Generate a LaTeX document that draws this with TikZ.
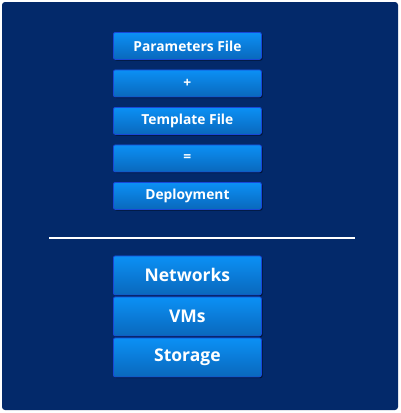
\documentclass[tikz,border=0pt]{standalone}
\usepackage{fontspec}
\setmainfont{Open Sans}
\usetikzlibrary{shadows}
\definecolor{bgnavy}{HTML}{03296A}
\definecolor{btop}{HTML}{0B90F5}
\definecolor{bbot}{HTML}{0A68BC}
\definecolor{bedge}{HTML}{1848D8}
\tikzset{
  btn/.style={draw=bedge, line width=0.8pt, rounded corners=2pt, top color=btop, bottom color=bbot,
    text=white, font=\fontsize{13.8}{15}\selectfont\bfseries, minimum width=148pt, anchor=north west,
    drop shadow={shadow xshift=1.2pt, shadow yshift=-1.2pt, opacity=0.5, fill=black}},
  small/.style={btn, minimum height=27pt},
  big/.style={btn, minimum height=39pt, font=\fontsize{17.5}{20}\selectfont\bfseries}
}
\begin{document}
\begin{tikzpicture}[x=1pt,y=-1pt]
\useasboundingbox (0,0) rectangle (400,413);
\fill[white] (0,0) rectangle (400,413);
\fill[bgnavy, rounded corners=3pt] (2,2) rectangle (398,410);
\node[small] (p) at (113,32) {Parameters File};
\node[small] (plus) at (113,69.5) {+};
\node[small] (t) at (113,107) {Template File};
\node[small] (eq) at (113,144.5) {=};
\node[small] (d) at (113,182) {Deployment};
\coordinate (l1) at (49,238);
\coordinate (l2) at (355,238);
\draw[white, line width=2pt] (l1) -- (l2);
\node[big] (n) at (113,255.5) {Networks};
\node[big] (v) at (113,296.5) {VMs};
\node[big] (s) at (113,337.5) {Storage};
\end{tikzpicture}
\end{document}
